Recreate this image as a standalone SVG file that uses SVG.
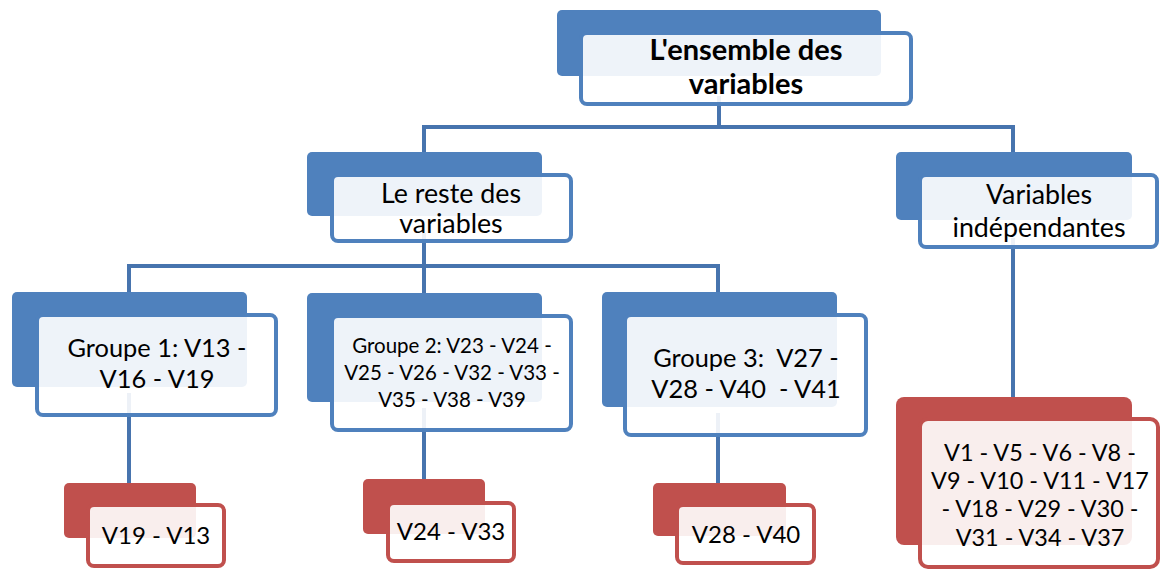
<svg xmlns="http://www.w3.org/2000/svg" width="1162" height="572" viewBox="0 0 1162 572">
<style>
.bb{fill:#4F81BD}
.bf{fill:#FFFFFF;fill-opacity:0.9;stroke:#4F81BD;stroke-width:4}
.rb{fill:#C0504D}
.rf{fill:#FFFFFF;fill-opacity:0.9;stroke:#C0504D;stroke-width:4}
.c{fill:none;stroke:#4774AE;stroke-width:4;stroke-linejoin:miter}
text{font-family:Lato,"Open Sans",sans-serif;font-size:25.4px;fill:#000;text-anchor:middle;white-space:pre}
.b{font-weight:bold;font-size:29px}
.l{font-size:26.8px}
.s{font-size:20.5px}
.v{font-size:24px}
.m{font-size:23.4px}
</style>
<rect width="1162" height="572" fill="#FFFFFF"/>
<g id="connectors">
<path class="c" d="M719,96 V127"/>
<path class="c" d="M424,173 V127 H1013 V173"/>
<path class="c" d="M424,233 V266"/>
<path class="c" d="M129,292 V266 H718 V292"/>
<path class="c" d="M424,266 V293"/>
<path class="c" d="M1013,238 V397"/>
<path class="c" d="M129,393 V483"/>
<path class="c" d="M424,408 V479"/>
<path class="c" d="M718,413 V483"/>
</g>
<g id="n-ensemble">
<rect class="bb" x="557" y="10" width="324" height="66" rx="5"/>
<rect class="bf" x="581" y="33" width="330" height="71" rx="6"/>
<text class="b" x="746" y="60">L'ensemble des</text>
<text class="b" x="746" y="94">variables</text>
</g>
<g id="n-reste">
<rect class="bb" x="307" y="152" width="235" height="64" rx="5"/>
<rect class="bf" x="332" y="175" width="239" height="66" rx="6"/>
<text class="l" x="451" y="203">Le reste des</text>
<text class="l" x="451" y="233">variables</text>
</g>
<g id="n-indep">
<rect class="bb" x="896" y="152" width="236" height="68" rx="5"/>
<rect class="bf" x="920" y="175" width="237" height="72" rx="6"/>
<text class="l" x="1039" y="204">Variables</text>
<text class="l" x="1039" y="237">indépendantes</text>
</g>
<g id="n-groupe1">
<rect class="bb" x="12" y="292" width="235" height="95" rx="5"/>
<rect class="bf" x="37" y="315" width="239" height="100" rx="6"/>
<text x="157" y="357">Groupe 1: V13 -</text>
<text x="157" y="388">V16 - V19</text>
</g>
<g id="n-groupe2">
<rect class="bb" x="307" y="293" width="235" height="109" rx="5"/>
<rect class="bf" x="332" y="316" width="239" height="114" rx="6"/>
<text class="s" x="452" y="353">Groupe 2: V23 - V24 -</text>
<text class="s" x="452" y="380">V25 - V26 - V32 - V33 -</text>
<text class="s" x="452" y="407">V35 - V38 - V39</text>
</g>
<g id="n-groupe3">
<rect class="bb" x="602" y="292" width="235" height="115" rx="5"/>
<rect class="bf" x="625" y="315" width="241" height="120" rx="6"/>
<text x="746" y="367">Groupe 3:  V27 -</text>
<text x="746" y="398">V28 - V40  - V41</text>
</g>
<g id="n-r1">
<rect class="rb" x="64" y="483" width="132" height="55" rx="5"/>
<rect class="rf" x="88" y="505" width="136" height="61" rx="6"/>
<text class="v" x="156" y="544">V19 - V13</text>
</g>
<g id="n-r2">
<rect class="rb" x="363" y="479" width="122" height="55" rx="5"/>
<rect class="rf" x="388" y="503" width="126" height="58" rx="6"/>
<text class="v" x="451" y="540">V24 - V33</text>
</g>
<g id="n-r3">
<rect class="rb" x="653" y="483" width="133" height="53" rx="5"/>
<rect class="rf" x="677" y="505" width="137" height="58" rx="6"/>
<text class="v" x="746" y="543">V28 - V40</text>
</g>
<g id="n-r4">
<rect class="rb" x="896" y="397" width="236" height="148" rx="8"/>
<rect class="rf" x="920" y="419" width="238" height="148" rx="8"/>
<text class="m" x="1040" y="461">V1 - V5 - V6 - V8 -</text>
<text class="m" x="1040" y="489">V9 - V10 - V11 - V17</text>
<text class="m" x="1040" y="517">- V18 - V29 - V30 -</text>
<text class="m" x="1040" y="546">V31 - V34 - V37</text>
</g>
</svg>
